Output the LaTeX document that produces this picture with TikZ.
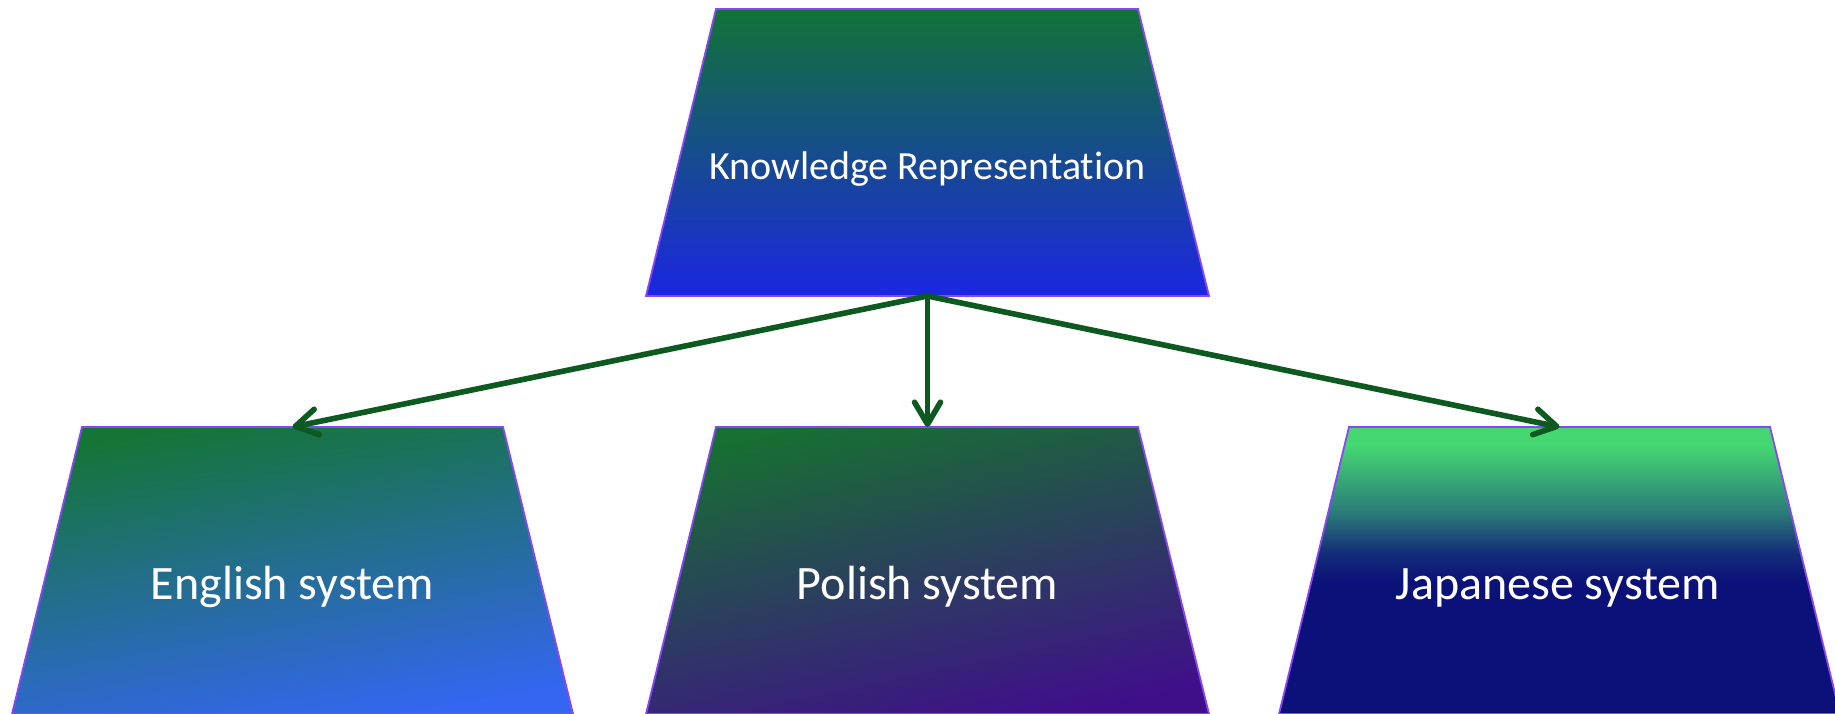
\documentclass[tikz,border=0pt]{standalone}
\usepackage{fontspec}
\setmainfont{Carlito}[Ligatures=NoCommon]
\usetikzlibrary{arrows.meta}
\definecolor{edgepurple}{HTML}{8A45F5}
\definecolor{arrowgreen}{HTML}{0D5A20}
\definecolor{krtop}{HTML}{127337}
\definecolor{krbot}{HTML}{1B26E2}
\definecolor{entop}{HTML}{147536}
\definecolor{enbot}{HTML}{3466F2}
\definecolor{pltop}{HTML}{176F32}
\definecolor{plbot}{HTML}{3F0F8A}
\definecolor{jgreen}{HTML}{45D872}
\definecolor{jteal}{HTML}{2A7B78}
\definecolor{jnavy}{HTML}{0B1178}
\pgfdeclareverticalshading{japshade}{100bp}{color(0bp)=(jnavy); color(48bp)=(jnavy); color(53bp)=(jnavy!75!jteal); color(60bp)=(jteal); color(72bp)=(jgreen); color(100bp)=(jgreen)}
\tikzset{
  trapbox/.style={draw=edgepurple, line width=0.9pt, line join=miter},
  lbl/.style={text=white, anchor=base, inner sep=0pt},
  conn/.style={draw=arrowgreen, line width=2.8pt, line cap=round,
    -{Straight Barb[length=11pt, width=13pt, round]}}
}
\begin{document}
\begin{tikzpicture}[x=0.5pt,y=-0.5pt]
\useasboundingbox (0,0) rectangle (1835,713);
% shapes
\path[trapbox, top color=krtop, bottom color=krbot]
  (646,296) -- (716,9) -- (1138,9) -- (1209,296) -- cycle;
\path[trapbox, top color=entop, bottom color=enbot, shading angle=10]
  (12,714) -- (82,427) -- (503,427) -- (573,714) -- cycle;
\path[trapbox, top color=pltop, bottom color=plbot, shading angle=12]
  (646,714) -- (716,427) -- (1138,427) -- (1209,714) -- cycle;
\path[trapbox, shading=japshade]
  (1279,714) -- (1349,427) -- (1770,427) -- (1840,714) -- cycle;
% anchor points
\coordinate (kr-s) at (927.5,296);
\coordinate (en-n) at (292.5,427);
\coordinate (pl-n) at (927.5,427);
\coordinate (jp-n) at (1559.5,427);
% labels
\node[lbl, font=\fontsize{20}{24}\selectfont] (kr) at (927.5,179) {Knowledge Representation};
\node[lbl, font=\fontsize{24}{28}\selectfont] (en) at (292.5,599) {English system};
\node[lbl, font=\fontsize{24}{28}\selectfont] (pl) at (927.5,599) {Polish system};
\node[lbl, font=\fontsize{24}{28}\selectfont] (jp) at (1558,599) {Japanese system};
% connectors
\draw[conn] (kr-s) -- (en-n);
\draw[conn] (kr-s) -- (pl-n);
\draw[conn] (kr-s) -- (jp-n);
\end{tikzpicture}
\end{document}
